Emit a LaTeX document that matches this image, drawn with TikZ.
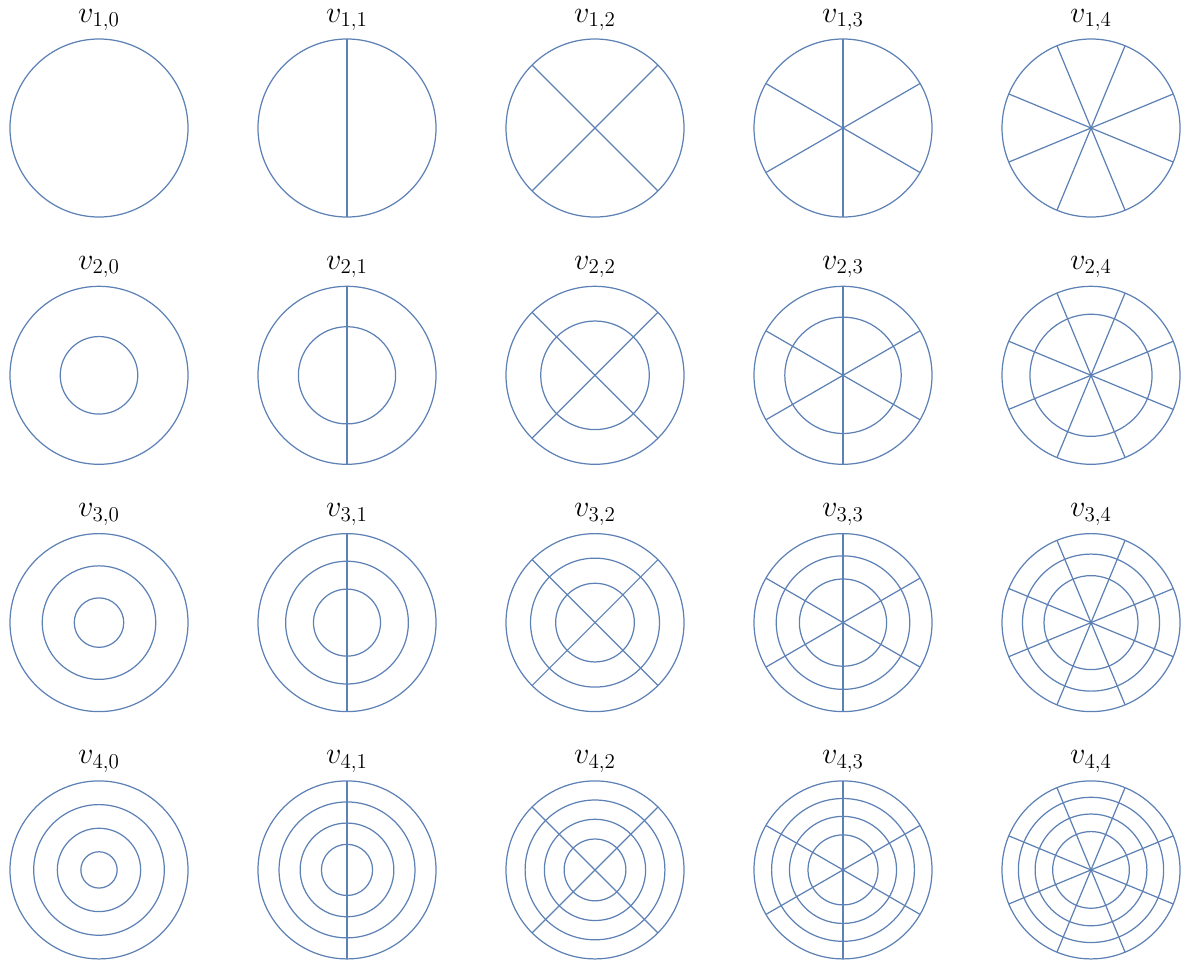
\documentclass[tikz,border=0pt]{standalone}
\usepackage{amsmath}
\usepackage{xcolor}
\usetikzlibrary{calc}
\definecolor{drumblue}{RGB}{94,129,181}

\begin{document}
\begin{tikzpicture}[
  nodal/.style={draw=drumblue,line width=0.7pt},  lbl/.style={anchor=base,inner sep=0pt,font=\fontsize{18}{20}\selectfont}
]
  \useasboundingbox (0,0) rectangle (23.76,-19.30);
  % columns: n = number of nodal diameters, zeros of J_n
  \foreach \n/\za/\zb/\zc/\zd in {0/2.4048/5.5201/8.6537/11.7915,
      1/3.8317/7.0156/10.1735/13.3237, 2/5.1356/8.4172/11.6198/14.7960,
      3/6.3802/9.7610/13.0152/16.2235, 4/7.5883/11.0647/14.3725/17.6160}{
    % rows: m = number of nodal circles
    \foreach \m in {1,...,4}{
      \coordinate (c\m\n) at ({1.98+4.96*\n},{-2.56-4.946*(\m-1)});
      \node[lbl] (v\m\n) at ($(c\m\n)+(0,2.12)$) {$v_{\m,\n}$};
      \pgfmathsetmacro\zm{{\za,\zb,\zc,\zd}[\m-1]}
      \foreach \k in {1,...,\m}{
        \pgfmathsetmacro\rr{1.78*{\za,\zb,\zc,\zd}[\k-1]/\zm}
        \draw[nodal] (c\m\n) circle (\rr);
      }
      \ifnum\n>0
        \pgfmathtruncatemacro\nl{\n-1}
        \foreach \j in {0,...,\nl}{
          \pgfmathsetmacro\ang{(2*\j+1)*90/\n}
          \draw[nodal] ($(c\m\n)+(\ang:1.78)$) -- ($(c\m\n)+(\ang+180:1.78)$);
        }
      \fi
    }
  }
\end{tikzpicture}
\end{document}
